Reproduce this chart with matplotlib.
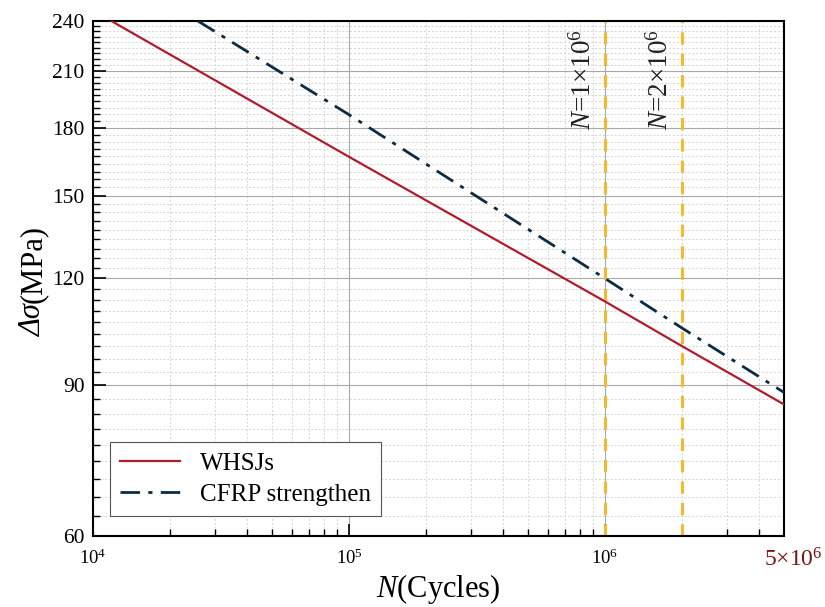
import numpy as np
import matplotlib
matplotlib.use('Agg')
import matplotlib.pyplot as plt
import matplotlib.transforms as mtransforms
from matplotlib.ticker import FixedLocator, MultipleLocator, NullFormatter, FixedFormatter

plt.rcParams['font.family'] = ['Liberation Serif', 'DejaVu Serif']
plt.rcParams['mathtext.fontset'] = 'custom'
plt.rcParams['mathtext.rm'] = 'Liberation Serif'
plt.rcParams['mathtext.it'] = 'Liberation Serif:italic'
plt.rcParams['mathtext.bf'] = 'Liberation Serif:bold'

# S-N lines (straight lines in log-log space)
whsj_n = [1.18e4, 1e5, 1e6, 2e6, 5e6]
whsj_s = [240, 166.5, 112.8, 100, 85.5]
cfrp_n = [2.57e4, 1e5, 1e6, 2e6, 5e6]
cfrp_s = [240, 186.5, 120, 105, 88.3]
ref_n = [1e6, 2e6]
ref_labels = [r'$N$=1$\times$10$^6$', r'$N$=2$\times$10$^6$']

y_ticks = [60, 90, 120, 150, 180, 210, 240]
x_ticks = [1e4, 1e5, 1e6, 5e6]
x_ticklabels = [r'10$^4$', r'10$^5$', r'10$^6$', r'5$\times$10$^6$']

fig = plt.figure(figsize=(8.25, 6.07), dpi=100)
ax = fig.add_axes([0.1127, 0.117, 0.8376, 0.8484])
ax.set_xscale('log')
ax.set_yscale('log')
ax.set_xlim(1e4, 5e6)
ax.set_ylim(60, 240)

ax.plot(whsj_n, whsj_s, color='#b01c2e', lw=1.6, label='WHSJs', zorder=3)
ax.plot(cfrp_n, cfrp_s, color='#0c2c44', lw=2.0, ls=(0, (7, 3, 1.5, 3)),
        label='CFRP strengthen', zorder=3)
for n, lab in zip(ref_n, ref_labels):
    ax.axvline(n, color='#f6b929', lw=2.2, ls=(0, (4, 3)), zorder=2)
    ax.text(n * 0.82, 235, lab, rotation=90, ha='center', va='top',
            fontsize=19.5, color='#222222')

ax.yaxis.set_major_locator(FixedLocator(y_ticks))
ax.yaxis.set_major_formatter(FixedFormatter([str(v) for v in y_ticks]))
ax.yaxis.set_minor_locator(MultipleLocator(30 / 9))
ax.yaxis.set_minor_formatter(NullFormatter())

ax.xaxis.set_major_locator(FixedLocator(x_ticks))
ax.xaxis.set_major_formatter(FixedFormatter(x_ticklabels))
minor_x = [m * 10 ** e for e in range(4, 7) for m in range(2, 10) if m * 10 ** e < 5e6]
ax.xaxis.set_minor_locator(FixedLocator(minor_x))
ax.xaxis.set_minor_formatter(NullFormatter())

ax.tick_params(which='both', direction='in', top=False, right=False)
ax.tick_params(which='major', length=9, width=1.2, labelsize=15.5, pad=6)
ax.tick_params(which='minor', length=5, width=1.0)
ax.tick_params(axis='x', which='major', labelsize=13.5, pad=9)
lbls = ax.get_xticklabels()
lbls[-1].set_color('#7a1414')
lbls[-1].set_fontsize(17)
shift = mtransforms.ScaledTranslation(9 / 100, 0, fig.dpi_scale_trans)
lbls[-1].set_transform(lbls[-1].get_transform() + shift)

ax.grid(which='major', color='#a8a8a8', lw=0.8, ls='-')
ax.grid(which='minor', color='#d4d4d4', lw=0.7, ls=(0, (2, 2)))
ax.set_axisbelow(True)
for s in ax.spines.values():
    s.set_linewidth(1.5)

ax.set_xlabel(r'$N$(Cycles)', fontsize=22, labelpad=0)

# y label: italic "Δσ" followed by upright "(MPa)", stacked upward
px = mtransforms.IdentityTransform()
x0, y0 = 41, 607 - 337
t1 = fig.text(x0, y0, 'Δσ', style='italic', fontsize=22, rotation=90,
              rotation_mode='anchor', ha='left', va='baseline', transform=px)
renderer = fig.canvas.get_renderer()
h = t1.get_window_extent(renderer).height
fig.text(x0, y0 + h + 1, '(MPa)', fontsize=22, rotation=90,
         rotation_mode='anchor', ha='left', va='baseline', transform=px)

leg = ax.legend(loc='lower left', bbox_to_anchor=(0.025, 0.039), borderaxespad=0,
                fontsize=18, handlelength=2.4, frameon=True, fancybox=False,
                edgecolor='#555555', framealpha=1, borderpad=0.4, labelspacing=0.35)
leg.get_frame().set_linewidth(0.8)

fig.savefig('out.png', dpi=100)
